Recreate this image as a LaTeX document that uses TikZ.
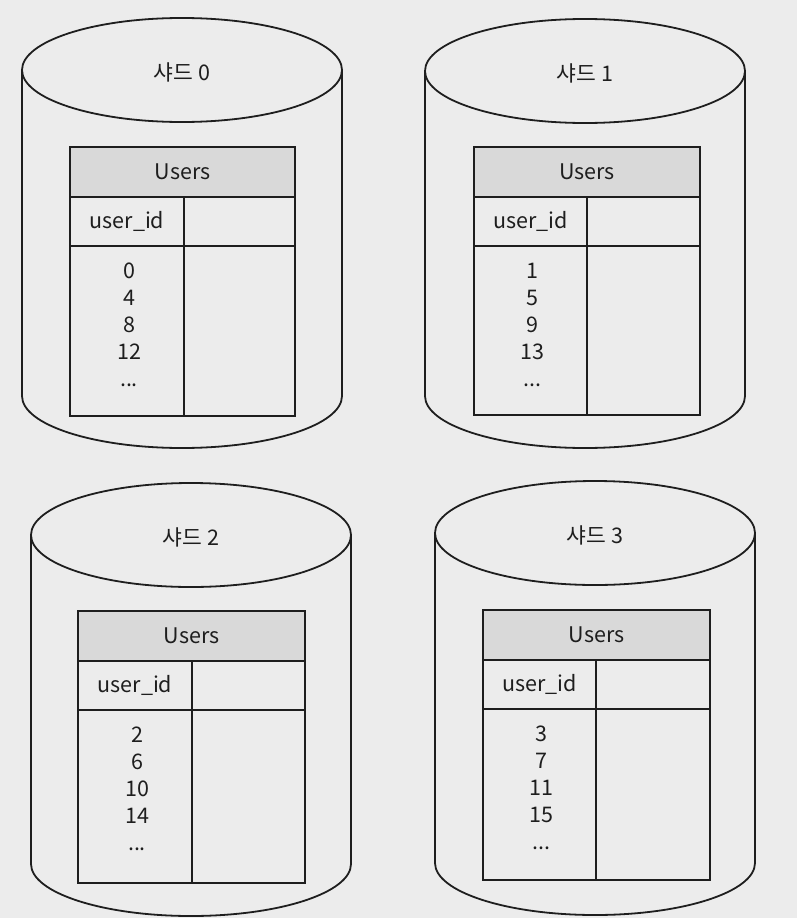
\documentclass[tikz,border=0pt]{standalone}
\usepackage{fontspec}
\setmainfont{Noto Sans CJK KR}
\definecolor{paper}{HTML}{ECECEC}
\definecolor{hdr}{HTML}{D9D9D9}
\definecolor{ink}{HTML}{1E1E1E}
\begin{document}
\begin{tikzpicture}[x=1pt,y=-1pt,
  outline/.style={draw=ink,line width=1.8pt},
  txt/.style={font=\fontsize{21.5}{27}\selectfont,text=ink,inner sep=0pt},
  vals/.style={txt,align=center,anchor=north}]
\fill[paper] (0,0) rectangle (797,918);
\useasboundingbox (0,0) rectangle (797,918);
\foreach \i/\cx/\cy/\by/\tl/\tr/\ty/\tc/\tb/\va/\vb/\vc/\vd in {
  0/182/70/396/70/295/147/184/416/0/4/8/12,
  1/585/71/396/474/700/147/587/415/1/5/9/13,
  2/191/535/864/78/305/611/192/883/2/6/10/14,
  3/595/533/863/483/710/610/596/880/3/7/11/15}{
  % cylinder
  \coordinate (cl\i) at (\cx-160,\cy);
  \coordinate (cr\i) at (\cx+160,\cy);
  \draw[outline,fill=paper] (cl\i) -- (\cx-160,\by) arc[start angle=180,end angle=360,x radius=160pt,y radius=52pt] -- (cr\i);
  \draw[outline,fill=paper] (\cx,\cy) ellipse[x radius=160pt,y radius=52pt];
  \node[txt] (label\i) at (\cx,\cy+2) {샤드 \i};
  % table
  \fill[hdr] (\tl,\ty) rectangle (\tr,\ty+50);
  \draw[outline] (\tl,\ty) rectangle (\tr,\tb);
  \draw[outline] (\tl,\ty+50) -- (\tr,\ty+50);
  \draw[outline] (\tl,\ty+99) -- (\tr,\ty+99);
  \draw[outline] (\tc,\ty+50) -- (\tc,\tb);
  \node[txt] (users\i) at ({(\tl+\tr)/2},\ty+25) {Users};
  \node[txt] (uid\i) at ({(\tl+\tc)/2},\ty+74) {user\_id};
  \node[vals] (vals\i) at ({(\tl+\tc)/2+2},\ty+116) {\va\\\vb\\\vc\\\vd\\...};
}
\end{tikzpicture}
\end{document}
